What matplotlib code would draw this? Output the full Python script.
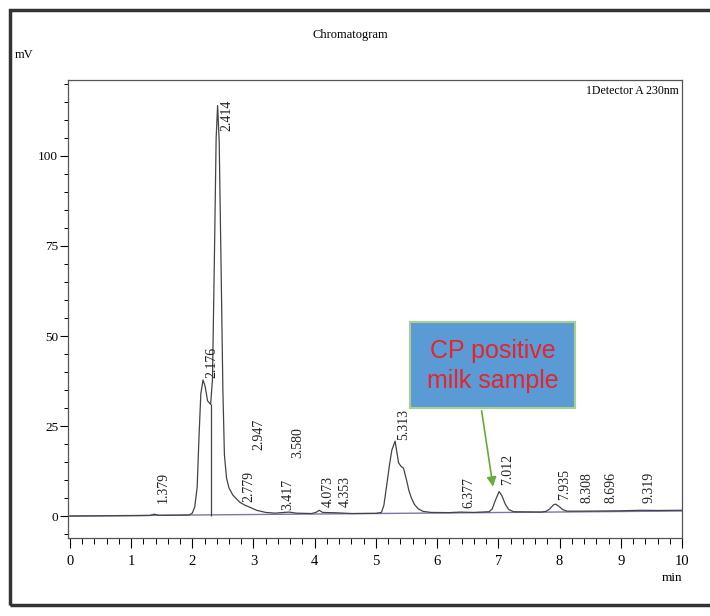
import matplotlib
matplotlib.use("Agg")
import matplotlib.pyplot as plt
from matplotlib.patches import Rectangle
from matplotlib.ticker import MultipleLocator

plt.rcParams['font.family'] = ['Liberation Serif', 'DejaVu Serif']

# chromatogram trace (min, mV)
time = [0.00, 1.00, 1.30, 1.379, 1.46, 1.80, 1.95, 2.00, 2.04, 2.08, 2.11, 2.14,
        2.176, 2.21, 2.25, 2.30, 2.33, 2.36, 2.39, 2.414, 2.44, 2.47, 2.50, 2.525,
        2.56, 2.60, 2.66, 2.72, 2.779, 2.86, 2.947, 3.05, 3.20, 3.35, 3.417, 3.50,
        3.580, 3.70, 3.95, 4.02, 4.073, 4.13, 4.353, 4.60, 5.00, 5.09, 5.13, 5.18,
        5.22, 5.26, 5.313, 5.37, 5.41, 5.45, 5.50, 5.54, 5.58, 5.63, 5.69, 5.77,
        5.90, 6.20, 6.377, 6.60, 6.85, 6.90, 6.95, 7.012, 7.06, 7.11, 7.17, 7.25,
        7.70, 7.78, 7.84, 7.90, 7.935, 7.99, 8.05, 8.12, 8.308, 8.696, 9.00, 9.319,
        9.60, 10.0]
signal = [0.0, 0.1, 0.15, 0.5, 0.2, 0.25, 0.3, 0.8, 2.5, 8.0, 22.0, 34.0,
          37.8, 36.0, 32.0, 31.0, 38.0, 70.0, 105.0, 114.0, 104.0, 70.0, 35.0, 17.0,
          10.5, 7.8, 5.9, 4.8, 3.8, 3.0, 2.4, 1.6, 1.0, 0.8, 0.9, 1.0,
          1.1, 0.8, 0.7, 1.0, 1.6, 1.0, 0.9, 0.7, 0.75, 1.0, 3.0, 9.0,
          14.0, 18.3, 20.8, 14.8, 13.8, 13.3, 10.0, 7.0, 5.0, 3.2, 2.0, 1.3,
          1.0, 0.95, 1.1, 1.0, 1.2, 2.0, 4.3, 6.8, 5.6, 3.4, 1.8, 1.2,
          1.1, 1.3, 2.0, 3.1, 3.3, 2.7, 1.8, 1.35, 1.35, 1.4, 1.45, 1.6,
          1.55, 1.6]

# integration baseline and drop line
base_t = [0.0, 10.0]
base_mv = [0.0, 1.4]
drop_t = 2.30
drop_top = 31.0

# retention time labels and where their text starts (mV)
peak_rt = [1.379, 2.176, 2.414, 2.779, 2.947, 3.417, 3.580, 4.073, 4.353,
           5.313, 6.377, 7.012, 7.935, 8.308, 8.696, 9.319]
label_y = [3.6, 38.3, 107.0, 3.9, 18.3, 1.7, 16.1, 2.5, 2.5,
           21.1, 2.2, 8.6, 4.4, 3.6, 3.6, 3.6]

fig = plt.figure(figsize=(7.1, 6.16), dpi=100)
ax = fig.add_axes([68 / 710, 1 - 538 / 616, 614 / 710, 458 / 616])

ax.plot(base_t, base_mv, color='#7f76a6', lw=1.0, zorder=2)
ax.plot(time, signal, color='#444444', lw=0.9, zorder=3)
ax.vlines(drop_t, 0, drop_top, color='#444444', lw=0.9, zorder=3)

for rt, ly in zip(peak_rt, label_y):
    ax.annotate(f'{rt:.3f}', xy=(rt, ly), xytext=(6.5, 0), textcoords='offset points',
                rotation=90, ha='center', va='bottom', fontsize=10, color='#222222')

ax.set_xlim(-0.03, 10.0)
ax.set_ylim(-6.1, 121.1)
ax.set_yticks([0, 25, 50, 75, 100])
ax.yaxis.set_minor_locator(MultipleLocator(5))
ax.xaxis.set_major_locator(MultipleLocator(1))
ax.xaxis.set_minor_locator(MultipleLocator(0.2))
ax.tick_params(axis='y', which='major', length=6, width=0.8, pad=1, labelsize=9.5)
ax.tick_params(axis='y', which='minor', length=3, width=0.7)
ax.tick_params(axis='x', which='major', length=7, width=0.8, pad=5, labelsize=10.5)
ax.tick_params(axis='x', which='minor', length=4, width=0.7)
for s in ax.spines.values():
    s.set_color('#555555')
    s.set_linewidth(0.9)

ax.text(0.995, 0.975, '1Detector A 230nm', transform=ax.transAxes, ha='right',
        va='center', fontsize=8.5)

# callout box
ax.add_patch(Rectangle((5.56, 30.0), 2.69, 23.9, facecolor='#5b9bd5',
                       edgecolor='#a9d18e', lw=1.5, zorder=5))
ax.text(6.905, 41.7, 'CP positive\nmilk sample', ha='center', va='center',
        fontsize=18, color='#e5242b', family=['Liberation Sans', 'DejaVu Sans'],
        linespacing=1.3, zorder=6)
ax.annotate('', xy=(6.92, 7.4), xytext=(6.72, 30.0),
            arrowprops=dict(arrowstyle='-|>', color='#6aaa3a', lw=1.2,
                            mutation_scale=14), zorder=6)

fig.text(350 / 710, 1 - 35 / 616, 'Chromatogram', ha='center', va='center', fontsize=9)
fig.text(24 / 710, 1 - 55 / 616, 'mV', ha='center', va='center', fontsize=9)
fig.text(672 / 710, 1 - 578 / 616, 'min', ha='center', va='center', fontsize=9.5)

# outer frame of the scanned page
fig.patches.append(Rectangle((10 / 710, 11 / 616), 1.1, 1 - 21 / 616,
                             transform=fig.transFigure, fill=False,
                             edgecolor='#333333', lw=2.5))

fig.savefig('out.png', dpi=100)
